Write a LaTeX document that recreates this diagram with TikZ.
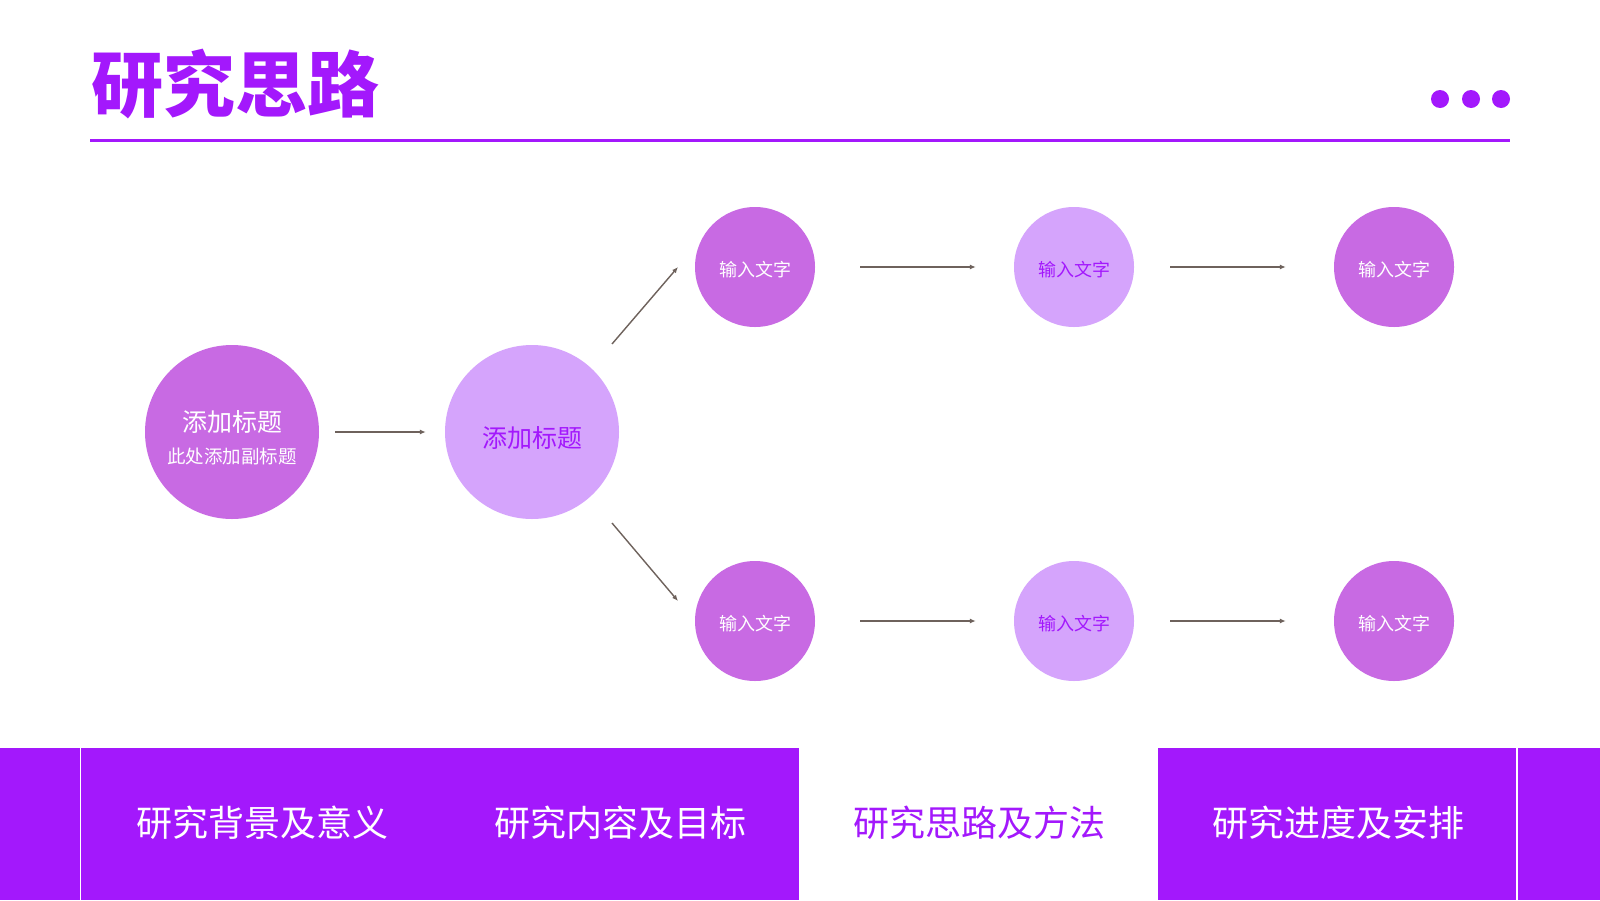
\documentclass[tikz,border=0pt]{standalone}
\usepackage{fontspec}
\usepackage{xcolor}
\usetikzlibrary{calc,arrows.meta}
\setmainfont{Noto Sans CJK SC}
\definecolor{mainpurple}{HTML}{A318FC}
\definecolor{circdeep}{HTML}{C86AE3}
\definecolor{circpale}{HTML}{D5A4FC}
\definecolor{arrowgray}{HTML}{6E625C}

\begin{document}
\begin{tikzpicture}[x=1pt,y=-1pt,
			every node/.style={circle,inner sep=0pt,align=center},
			big/.style={minimum size=174pt},
			small/.style={minimum size=120pt},
			deep/.style={fill=circdeep},
			pale/.style={fill=circpale},
			word/.style={font=\fontsize{18}{22}\selectfont,yshift=-3pt},
			tab/.style={rectangle,font=\fontsize{36}{42}\selectfont},
			link/.style={draw=arrowgray,line width=1.4pt,-{Latex[length=6pt,width=5pt]}}]
		\useasboundingbox (0,0) rectangle (1600,900);
		\fill[white] (0,0) rectangle (1600,900);
		% heading
		\node[rectangle,text=mainpurple,font=\fontsize{72}{80}\selectfont\bfseries] (title) at (235,84) {研究思路};
		\draw[mainpurple,line width=3pt] (90,140) -- (1510,140);
		\foreach \x in {1440,1471,1501}
			\fill[mainpurple] (\x,99) circle (9);
		% circles
		\node[big,deep,
			label={[text=white,font=\fontsize{25}{30}\selectfont,yshift=10pt]center:添加标题},
			label={[text=white,font=\fontsize{18.5}{22}\selectfont,yshift=-24pt]center:此处添加副标题}]
			(head) at (232,432) {};
		\node[big,pale,label={[text=mainpurple,font=\fontsize{25}{30}\selectfont,yshift=-6pt]center:添加标题}]
			(mid) at (532,432) {};
		\node[small,deep,label={[word,text=white]center:输入文字}] (up1) at (755,267) {};
		\node[small,pale,label={[word,text=mainpurple]center:输入文字}] (up2) at (1074,267) {};
		\node[small,deep,label={[word,text=white]center:输入文字}] (up3) at (1394,267) {};
		\node[small,deep,label={[word,text=white]center:输入文字}] (down1) at (755,621) {};
		\node[small,pale,label={[word,text=mainpurple]center:输入文字}] (down2) at (1074,621) {};
		\node[small,deep,label={[word,text=white]center:输入文字}] (down3) at (1394,621) {};
		% arrows
		\draw[link,shorten <=16pt,shorten >=19pt] (head) -- (mid);
		\draw[link] ($(mid)+(80,-88)$) -- ($(up1)+(-77,0)$);
		\draw[link] ($(mid)+(80,91)$) -- ($(down1)+(-77,-20)$);
		\foreach \row in {up,down}
		{
			\draw[link,shorten <=45pt,shorten >=38pt] (\row1) -- (\row2);
			\draw[link,shorten <=36pt,shorten >=48pt] (\row2) -- (\row3);
		}
		% bottom tabs
		\fill[mainpurple] (0,748) rectangle (799,900);
		\fill[mainpurple] (1158,748) rectangle (1600,900);
		\draw[white,line width=1.5pt] (80.5,748) -- (80.5,900);
		\draw[white,line width=1.5pt] (1517,748) -- (1517,900);
		\node[tab,text=white] (tab1) at (262,823) {研究背景及意义};
		\node[tab,text=white] (tab2) at (620,823) {研究内容及目标};
		\node[tab,text=mainpurple] (tab3) at (979,823) {研究思路及方法};
		\node[tab,text=white] (tab4) at (1338,823) {研究进度及安排};
\end{tikzpicture}
\end{document}
